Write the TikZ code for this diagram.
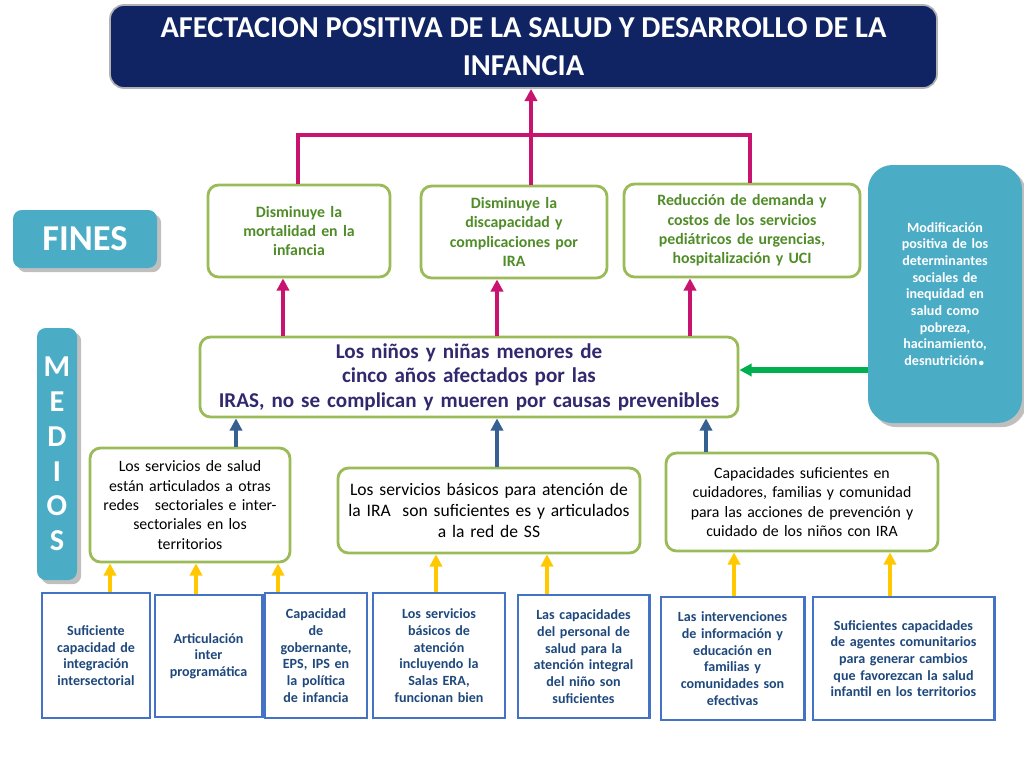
\documentclass[tikz,border=0pt]{standalone}
\usepackage{fontspec}
\setmainfont{Carlito}
\usepackage{tikz}
\usetikzlibrary{arrows.meta,positioning,shadows}
\definecolor{marino}{RGB}{16,36,100}
\definecolor{celeste}{RGB}{75,172,198}
\definecolor{verdeBorde}{RGB}{155,187,89}
\definecolor{verdeTexto}{RGB}{80,140,40}
\definecolor{magenta}{RGB}{200,20,110}
\definecolor{azulFlecha}{RGB}{54,96,146}
\definecolor{amarillo}{RGB}{255,200,0}
\definecolor{azulCaja}{RGB}{68,114,196}
\definecolor{azulTexto}{RGB}{31,73,125}
\definecolor{morado}{RGB}{50,40,110}
\definecolor{verdeFlecha}{RGB}{0,176,80}
\hyphenpenalty=10000
\exhyphenpenalty=10000
\tikzstyle{fin}  =[draw=verdeBorde, line width=1.6pt, rounded corners=6pt,
                  fill=white, align=center, font=\bfseries\small, text=verdeTexto]
\tikzstyle{medio}=[draw=verdeBorde, line width=1.6pt, rounded corners=6pt,
                  fill=white, align=center, font=\small]
\tikzstyle{base} =[draw=azulCaja, line width=1.3pt, fill=white, align=center,
                  font=\bfseries\footnotesize, text=azulTexto]
\tikzstyle{rotulo}=[fill=celeste, rounded corners=5pt, text=white,
                  drop shadow, font=\bfseries]
\tikzstyle{up}   =[-{Triangle[width=7pt,length=7pt]}, line width=2.2pt]
\begin{document}
\begin{tikzpicture}[x=0.02cm,y=-0.02cm]
    \useasboundingbox (0,0) rectangle (1024,768);
    % titulo
    \node (tit) [fill=marino, rounded corners=8pt, draw=gray!60, line width=1pt,
        minimum width=827*0.02cm, minimum height=83*0.02cm, text=white,
        font=\bfseries\LARGE, align=center] at (523.5,46.5)
        {AFECTACION POSITIVA DE LA SALUD Y DESARROLLO DE LA\\INFANCIA};
    \node (fines) [rotulo, minimum width=144*0.02cm, minimum height=58*0.02cm,
        font=\bfseries\huge] at (85,239) {FINES};
    \node (medios) [rotulo, minimum width=40*0.02cm, minimum height=252*0.02cm,
        font=\bfseries\LARGE\linespread{0.9}\selectfont, align=center, inner sep=1pt] at (57,454)
        {M\\E\\D\\I\\O\\S};
    \node (det) [rotulo, rounded corners=14pt, minimum width=154*0.02cm,
        minimum height=258*0.02cm, text width=112*0.02cm, align=center,
        font=\bfseries\footnotesize] at (945,294)
        {Modificación positiva de los determinantes sociales de inequidad en salud como pobreza, hacinamiento, desnutrición\textbf{\LARGE.}};
    % fines
    \node (f1) [fin, minimum width=182*0.02cm, minimum height=92*0.02cm,
        text width=150*0.02cm] at (299,231)
        {Disminuye la\\mortalidad en la\\infancia};
    \node (f2) [fin, minimum width=186*0.02cm, minimum height=92*0.02cm,
        text width=160*0.02cm] at (514,232)
        {Disminuye la\\discapacidad y\\complicaciones por\\IRA};
    \node (f3) [fin, minimum width=236*0.02cm, minimum height=93*0.02cm,
        text width=220*0.02cm] at (742,230.5)
        {Reducción de demanda y\\costos de los servicios\\pediátricos de urgencias,\\hospitalización y UCI};
    \node (ce) [fin, minimum width=538*0.02cm, minimum height=80*0.02cm,
        text width=520*0.02cm, text=morado, font=\bfseries\large] at (469,377)
        {Los niños y niñas menores de cinco años afectados por las\\IRAS, no se complican y mueren por causas prevenibles};
    % medios
    \node (m1) [medio, minimum width=200*0.02cm, minimum height=114*0.02cm,
        text width=185*0.02cm] at (190,505)
        {Los servicios de salud\\están articulados a otras\\redes \ \ sectoriales e inter-\\sectoriales en los\\territorios};
    \node (m2) [medio, minimum width=302*0.02cm, minimum height=85*0.02cm,
        text width=290*0.02cm, font=\normalsize] at (489,510.5)
        {Los servicios básicos para atención de\\la IRA \ son suficientes es y articulados\\a la red de SS};
    \node (m3) [medio, minimum width=272*0.02cm, minimum height=98*0.02cm,
        text width=260*0.02cm] at (802,502)
        {Capacidades suficientes en\\cuidadores, familias y comunidad\\para las acciones de prevención y\\cuidado de los niños con IRA};
    % base
    \node (b1) [base, minimum width=104*0.02cm, minimum height=125*0.02cm, text width=96*0.02cm] at (96,655.5)
        {Suficiente\\capacidad de\\integración\\intersectorial};
    \node (b2) [base, minimum width=103*0.02cm, minimum height=122*0.02cm, text width=96*0.02cm] at (208.5,656)
        {Articulación\\inter\\programática};
    \node (b3) [base, minimum width=96*0.02cm, minimum height=125*0.02cm, text width=90*0.02cm] at (316,655.5)
        {Capacidad\\de\\gobernante,\\EPS, IPS en\\la política\\de infancia};
    \node (b4) [base, minimum width=132*0.02cm, minimum height=125*0.02cm, text width=120*0.02cm] at (439,655.5)
        {Los servicios\\básicos de\\atención\\incluyendo la\\Salas ERA,\\funcionan bien};
    \node (b5) [base, minimum width=129*0.02cm, minimum height=123*0.02cm, text width=120*0.02cm] at (583.5,656.5)
        {Las capacidades\\del personal de\\salud para la\\atención integral\\del niño son\\suficientes};
    \node (b6) [base, minimum width=139*0.02cm, minimum height=123*0.02cm, text width=132*0.02cm] at (732.5,658.5)
        {Las intervenciones\\de información y\\educación en\\familias y\\comunidades son\\efectivas};
    \node (b7) [base, minimum width=177*0.02cm, minimum height=123*0.02cm, text width=170*0.02cm] at (903.5,658.5)
        {Suficientes capacidades\\de agentes comunitarios\\para generar cambios\\que favorezcan la salud\\infantil en los territorios};
    % conectores
    \coordinate (bar) at (531,135);
    \draw [magenta, line width=2.5pt] (f1.north -| 298,0) |- (bar) -| (f3.north -| 750,0);
    \draw [up, magenta] (f2.north -| bar) -- (tit.south -| bar);
    \foreach \x/\f in {283/f1,497/f2,690/f3}
        \draw [up, magenta] (ce.north -| \x,0) -- (\f.south -| \x,0);
    \draw [up, verdeFlecha, line width=3pt] (det.west |- 0,370) -- (ce.east |- 0,370);
    \foreach \x/\m in {236/m1,497/m2,706/m3}
        \draw [up, azulFlecha] (\m.north -| \x,0) -- (ce.south -| \x,0);
    \foreach \x/\b/\m in {110/b1/m1,196/b2/m1,278/b3/m1,436/b4/m2,547/b5/m2,734/b6/m3,890/b7/m3}
        \draw [up, amarillo] (\b.north -| \x,0) -- (\m.south -| \x,0);
\end{tikzpicture}
\end{document}
